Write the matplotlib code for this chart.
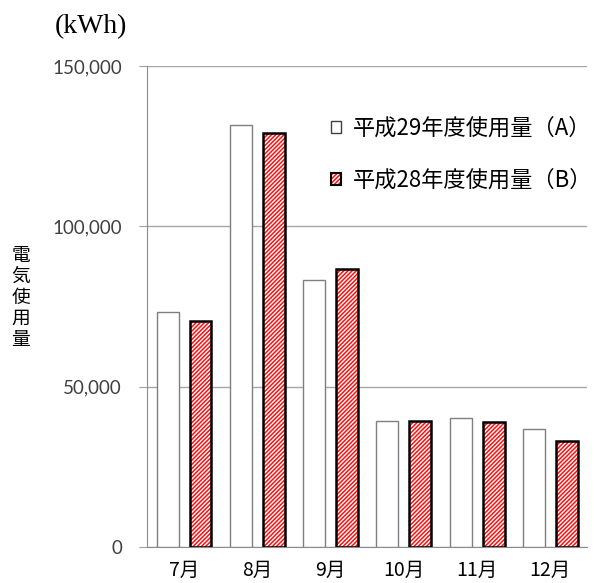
import numpy as np
import matplotlib.pyplot as plt
from matplotlib.patches import Patch
from matplotlib.legend_handler import HandlerTuple

plt.rcParams['font.family'] = ['Noto Sans CJK JP', 'DejaVu Sans']
plt.rcParams['hatch.linewidth'] = 1.0

months = ['7月', '8月', '9月', '10月', '11月', '12月']
usage_h29 = [73300, 131600, 83300, 39400, 40300, 36900]
usage_h28 = [70500, 129100, 86700, 39300, 38900, 33200]
yticks = [0, 50000, 100000, 150000]
label_a = '平成29年度使用量（A）'
label_b = '平成28年度使用量（B）'

fig = plt.figure(figsize=(5.94, 5.83), dpi=100)
ax = fig.add_axes([0.2475, 0.0617, 0.74, 0.825])

x = np.arange(len(months))
w = 0.30
hatch = '////////'

# white bars, this year
ax.bar(x - 0.22, usage_h29, w, facecolor='white', edgecolor='#7f7f7f',
       linewidth=1.0, zorder=3)
# red hatched bars, last year: hatch drawn in white, black outline on top
ax.bar(x + 0.23, usage_h28, w, facecolor='#ff1010', edgecolor='white',
       hatch=hatch, linewidth=0, zorder=3)
ax.bar(x + 0.23, usage_h28, w, fill=False, edgecolor='black',
       linewidth=1.8, zorder=4)

ax.set_xlim(-0.5, len(months) - 0.5)
ax.set_ylim(0, 150000)
ax.set_yticks(yticks)
ax.set_yticklabels([f'{v:,}' for v in yticks], fontfamily='Lato',
                   fontsize=13.5, color='#404040')
ax.set_xticks(x)
ax.set_xticklabels(months, fontsize=14)
ax.tick_params(axis='y', length=6, color='#a0a0a0', pad=12)
ax.tick_params(axis='x', length=0, pad=9)
ax.grid(axis='y', color='#a6a6a6', linewidth=1.0, zorder=0)

for s in ['top', 'right']:
    ax.spines[s].set_visible(False)
ax.spines['left'].set_color('#8c8c8c')
ax.spines['bottom'].set_color('#8c8c8c')

fig.text(55 / 594, 1 - 27 / 583, '(kWh)', fontfamily='Liberation Serif',
         fontsize=20, va='center', ha='left')
fig.text(21 / 594, 1 - 297 / 583, '\n'.join('電気使用量'), fontsize=13.5,
         va='center', ha='center', linespacing=1.0)

h_a = Patch(facecolor='white', edgecolor='#404040', linewidth=1.0)
h_b = (Patch(facecolor='#ff1010', edgecolor='white', hatch=hatch, linewidth=0),
       Patch(fill=False, edgecolor='black', linewidth=1.5))
ax.legend([h_a, h_b], [label_a, label_b], handler_map={tuple: HandlerTuple(ndivide=1)},
          loc='upper left', bbox_to_anchor=(331 / 594, 1 - 117 / 583),
          bbox_transform=fig.transFigure, frameon=False, fontsize=16,
          handlelength=0.45, handleheight=0.45, handletextpad=0.55,
          labelspacing=1.3, borderpad=0, borderaxespad=0)

fig.savefig('out.png', dpi=100)
